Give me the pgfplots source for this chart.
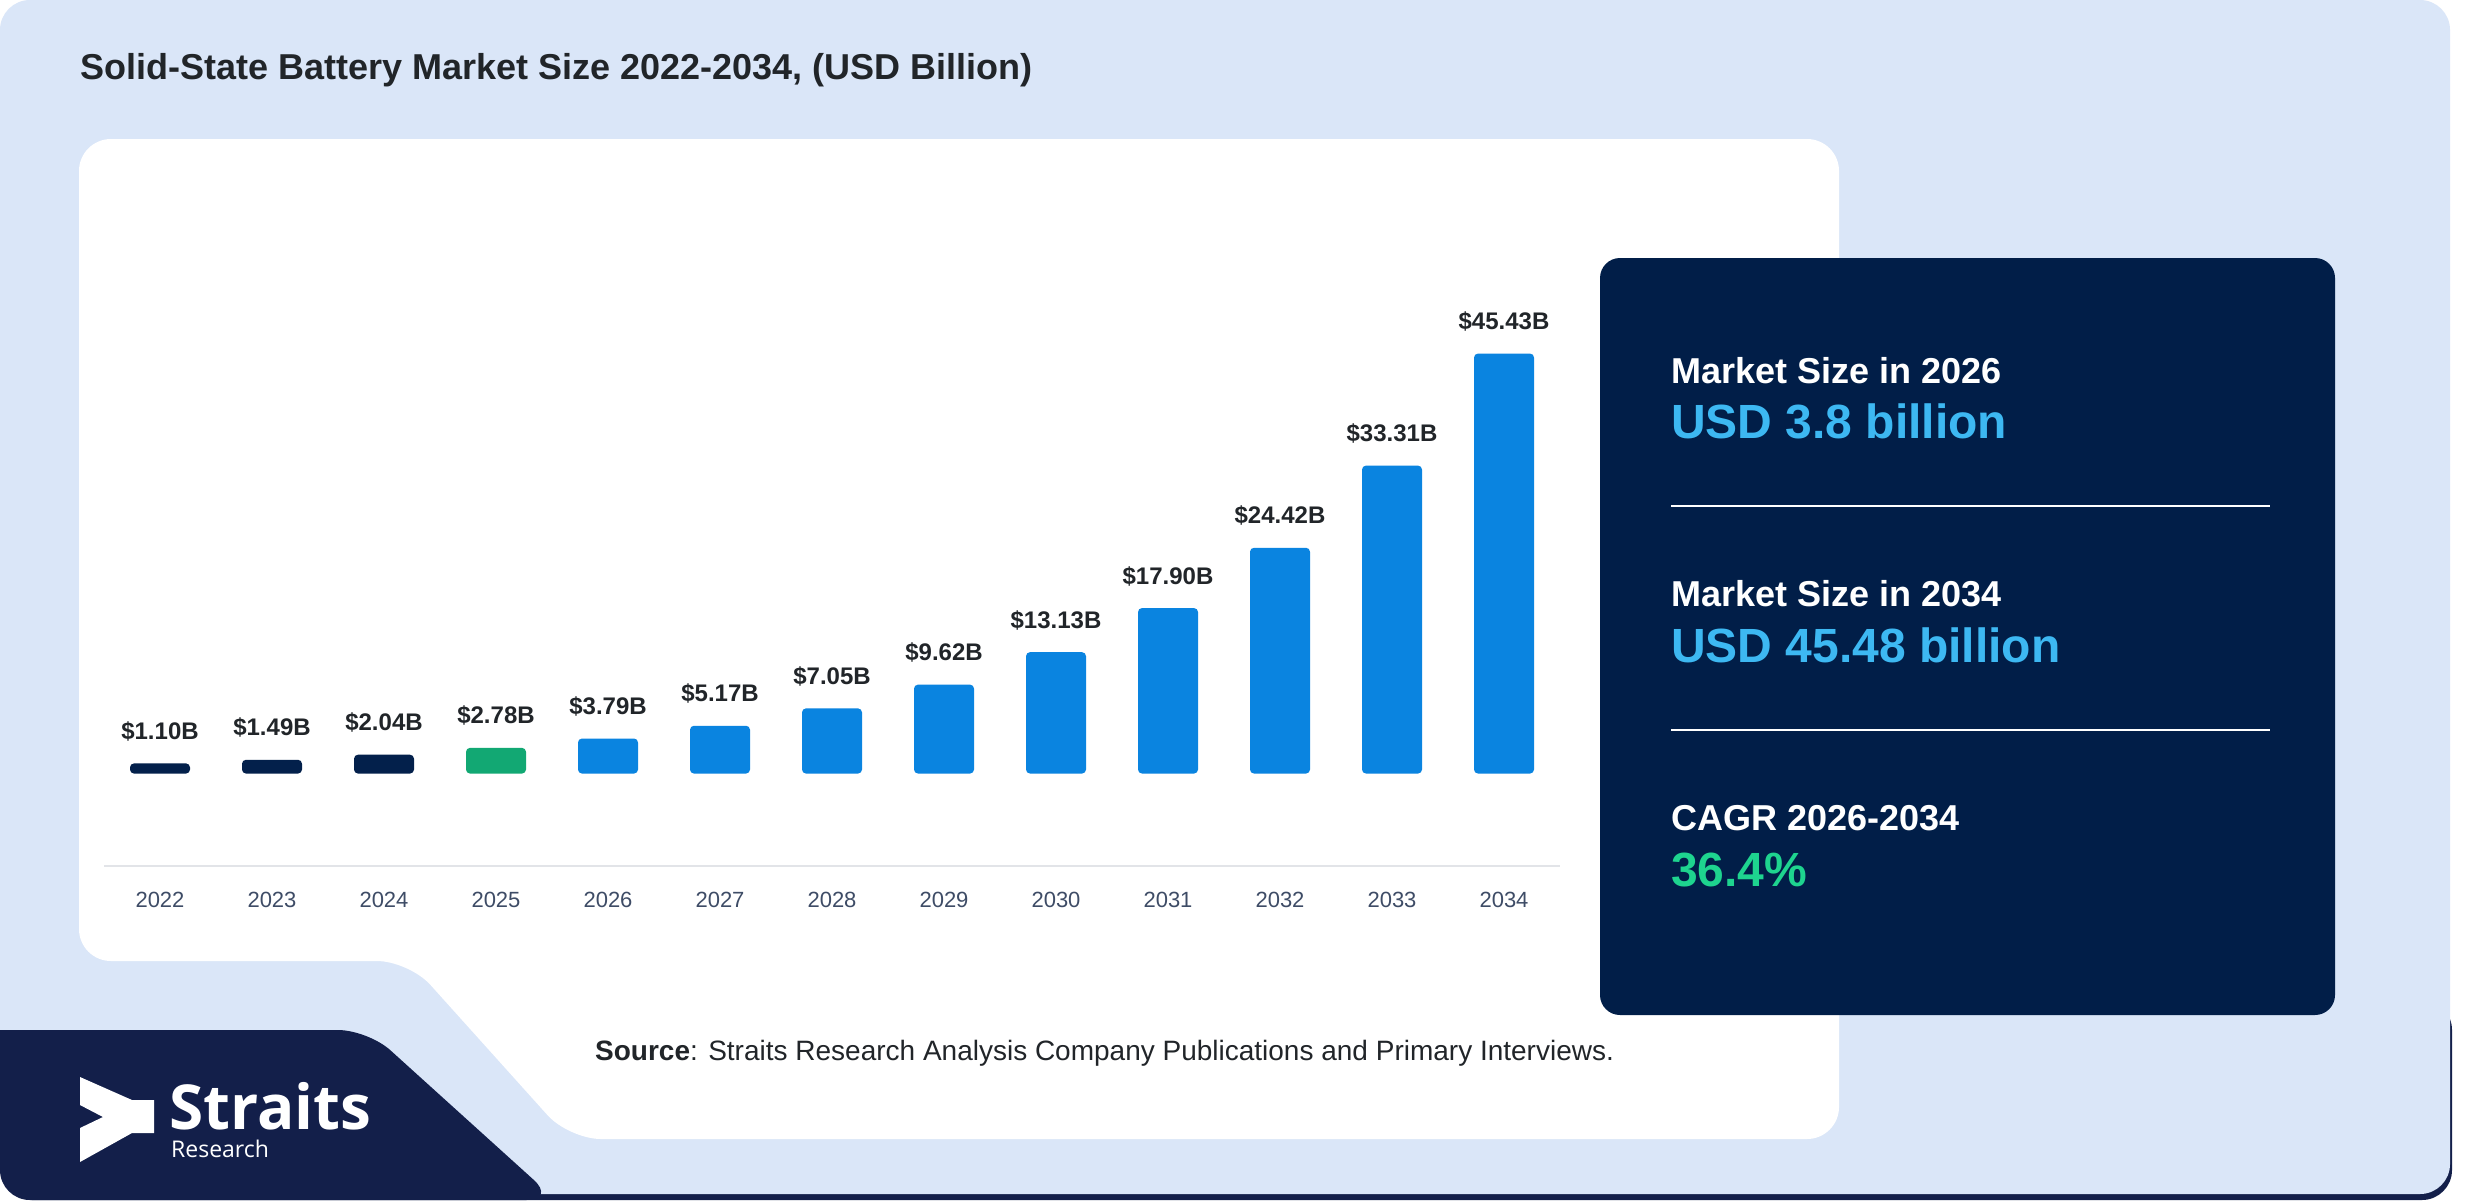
\documentclass[border=0pt]{standalone}
\usepackage{fontspec}
\setmainfont{Liberation Sans}
\newfontfamily\logofont{Open Sans}
\usepackage{pgfplots}
\pgfplotsset{compat=1.18}
\definecolor{bgblue}{HTML}{DAE6F8}
\definecolor{navy}{HTML}{011E48}
\definecolor{logonavy}{HTML}{131F4A}
\definecolor{barnavy}{HTML}{03204B}
\definecolor{bargreen}{HTML}{12A873}
\definecolor{barblue}{HTML}{0A84E0}
\definecolor{skyblue}{HTML}{3DB8F2}
\definecolor{cagrgreen}{HTML}{1ED48F}
\definecolor{titlegray}{HTML}{212529}
\definecolor{tickgray}{HTML}{3E4C66}
\definecolor{axisgray}{HTML}{E2E4E8}
\begin{document}
\begin{tikzpicture}
\begin{scope}[x=1pt,y=-1pt]
\useasboundingbox (0,0) rectangle (2480,1200);
\fill[white] (0,0) rectangle (2480,1200);
\fill[logonavy, rounded corners=30pt] (2,1000) rectangle (2452,1200);
\fill[bgblue, rounded corners=30pt] (0,0) rectangle (2450,1194);
\fill[logonavy] (0,1030) [rounded corners=30pt] -- (368,1030) -- (556,1200) -- (0,1200) [sharp corners] -- cycle;
% white chart panel
\fill[white, rounded corners=32pt] (79,139) -- (1839,139) -- (1839,1139) -- (569,1139) -- (409,961) -- (79,961) -- cycle;
% stats panel
\fill[navy, rounded corners=20pt] (1600,258) rectangle (2335,1015);
\draw[white, line width=2pt] (1671,506) -- (2270,506);
\draw[white, line width=2pt] (1671,730) -- (2270,730);
\node[anchor=base west, inner sep=0, text=white, font=\bfseries\fontsize{36}{40}\selectfont] at (1671,383) {Market Size in 2026};
\node[anchor=base west, inner sep=0, text=skyblue, font=\bfseries\fontsize{48}{52}\selectfont] at (1671,438) {USD 3.8 billion};
\node[anchor=base west, inner sep=0, text=white, font=\bfseries\fontsize{36}{40}\selectfont] at (1671,606) {Market Size in 2034};
\node[anchor=base west, inner sep=0, text=skyblue, font=\bfseries\fontsize{48}{52}\selectfont] at (1671,662) {USD 45.48 billion};
\node[anchor=base west, inner sep=0, text=white, font=\bfseries\fontsize{36}{40}\selectfont] at (1671,830) {CAGR 2026-2034};
\node[anchor=base west, inner sep=0, text=cagrgreen, font=\bfseries\fontsize{48}{52}\selectfont] at (1671,886) {36.4\%};
% title
\node[anchor=base west, inner sep=0, text=titlegray, font=\bfseries\fontsize{36}{40}\selectfont] at (80,79) {Solid-State Battery Market Size 2022-2034, (USD Billion)};
% source
\node[anchor=base west, inner sep=0, text=titlegray, font=\fontsize{28}{30}\selectfont] at (595,1060) {\textbf{Source}: Straits Research Analysis Company Publications and Primary Interviews.};
% logo
\fill[white] (80,1077) -- (132,1100) -- (154,1100) -- (154,1133) -- (132,1133) -- (80,1162) -- (80,1128) -- (103,1117) -- (80,1105) -- cycle;
\node[anchor=base west, inner sep=0, text=white, font=\logofont\bfseries\fontsize{62}{64}\selectfont] at (169,1129) {Straits};
\node[anchor=base west, inner sep=0, text=white, font=\logofont\fontsize{23}{25}\selectfont] at (171,1157) {Research};
\end{scope}
\begin{axis}[
  at={(104pt,-866pt)}, anchor=south west,
  scale only axis, width=1456pt, height=554.7pt,
  xmin=2021.5, xmax=2034.5, ymin=-10, ymax=50,
  axis x line=bottom, axis y line=none,
  x axis line style={draw=axisgray, line width=2.5pt, -},
  xtick={2022,2023,2024,2025,2026,2027,2028,2029,2030,2031,2032,2033,2034},
  xticklabels={2022,2023,2024,2025,2026,2027,2028,2029,2030,2031,2032,2033,2034},
  major tick length=0pt,
  xticklabel style={font=\fontsize{22}{24}\selectfont, text=tickgray, anchor=base, yshift=-41pt},
  ytick=\empty,
  ybar, bar width=60pt,
  clip=false,
  /pgf/number format/assume math mode=true,
  nodes near coords={\$\pgfmathprintnumber[fixed,fixed zerofill,precision=2]{\pgfplotspointmeta}B},
  every node near coord/.append style={font=\bfseries\fontsize{24}{26}\selectfont, text=titlegray, anchor=base, yshift=24pt, inner sep=0pt},
]
\addplot[fill=barnavy, draw=none, rounded corners=4pt, bar shift=0pt] coordinates {(2022,1.10) (2023,1.49) (2024,2.04)};
\addplot[fill=bargreen, draw=none, rounded corners=4pt, bar shift=0pt] coordinates {(2025,2.78)};
\addplot[fill=barblue, draw=none, rounded corners=4pt, bar shift=0pt] coordinates {(2026,3.79) (2027,5.17) (2028,7.05) (2029,9.62) (2030,13.13) (2031,17.90) (2032,24.42) (2033,33.31) (2034,45.43)};
\end{axis}
\end{tikzpicture}
\end{document}
